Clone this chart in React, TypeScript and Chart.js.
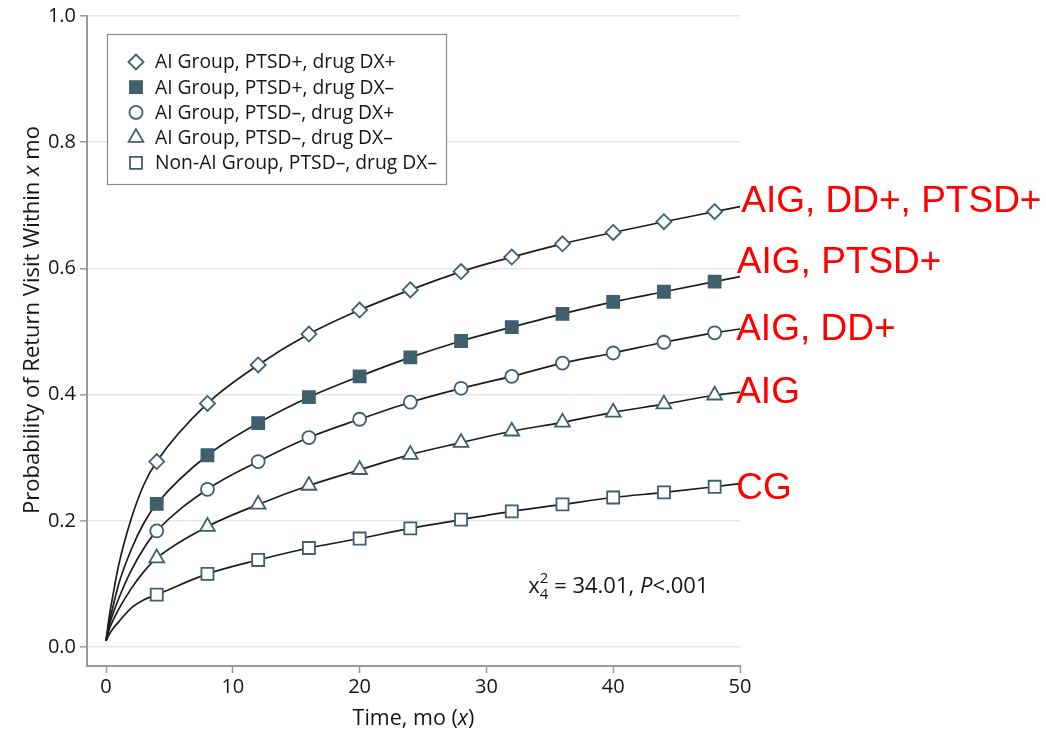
import React, { useEffect, useRef } from 'react';
import { Chart, registerables } from 'chart.js';

Chart.register(...registerables);

// ---------- data ----------
const seriesLabels = [
  'AI Group, PTSD+, drug DX+',
  'AI Group, PTSD+, drug DX\u2013',
  'AI Group, PTSD\u2013, drug DX+',
  'AI Group, PTSD\u2013, drug DX\u2013',
  'Non-AI Group, PTSD\u2013, drug DX\u2013',
];
const seriesMarkers = ['rectRot', 'rect', 'circle', 'triangle', 'rect'];
const seriesFilled = [false, true, false, false, false];

const markerTimes = [4, 8, 12, 16, 20, 24, 28, 32, 36, 40, 44, 48];
const aigDdPtsd = [0.294, 0.386, 0.447, 0.496, 0.534, 0.566, 0.595, 0.618, 0.639, 0.657, 0.674, 0.690];
const aigPtsd = [0.227, 0.304, 0.355, 0.396, 0.429, 0.459, 0.485, 0.507, 0.528, 0.547, 0.563, 0.579];
const aigDd = [0.184, 0.250, 0.294, 0.332, 0.361, 0.388, 0.410, 0.429, 0.450, 0.466, 0.483, 0.498];
const aig = [0.141, 0.191, 0.226, 0.256, 0.281, 0.305, 0.324, 0.342, 0.356, 0.372, 0.385, 0.399];
const cg = [0.083, 0.116, 0.138, 0.157, 0.172, 0.188, 0.202, 0.215, 0.226, 0.237, 0.245, 0.254];

// fitted curves: early part (t = 0 .. 3), marker part, end (t = 50)
const curveHeadTimes = [0, 0.25, 0.5, 1, 2, 3];
const curveEndTime = 50;
const aigDdPtsdHead = [0.010, 0.048, 0.077, 0.130, 0.204, 0.258];
const aigPtsdHead = [0.010, 0.040, 0.060, 0.100, 0.155, 0.197];
const aigDdHead = [0.010, 0.034, 0.050, 0.077, 0.122, 0.157];
const aigHead = [0.010, 0.028, 0.040, 0.060, 0.093, 0.120];
const cgHead = [0.010, 0.020, 0.028, 0.040, 0.062, 0.075];
const curveEnds = [0.698, 0.587, 0.504, 0.404, 0.259];

const xTicks = [0, 10, 20, 30, 40, 50];
const yTicks = [0, 0.2, 0.4, 0.6, 0.8, 1.0];

const groupLabels = ['AIG, DD+, PTSD+', 'AIG, PTSD+', 'AIG, DD+', 'AIG', 'CG'];
const statText = { chi: '34.01', df: '4', p: '<.001' };

// ---------- styles ----------
const MARK = '#3e5f6b';
const FONT = '"Open Sans", "DejaVu Sans", sans-serif';
const TEXT = '#151515';
const AXIS = '#9a9a9a';
const GRID = '#e6e6e6';

const markerSeries = [aigDdPtsd, aigPtsd, aigDd, aig, cg];
const headSeries = [aigDdPtsdHead, aigPtsdHead, aigDdHead, aigHead, cgHead];

function markerRadius(style: string) {
  if (style === 'rectRot') return 7.5;
  if (style === 'rect') return 8.5;
  if (style === 'circle') return 6.5;
  return 8.5;
}

function drawMarker(ctx: CanvasRenderingContext2D, style: string, x: number, y: number, filled: boolean) {
  const r = markerRadius(style);
  ctx.save();
  ctx.beginPath();
  if (style === 'rectRot') {
    ctx.moveTo(x - r, y);
    ctx.lineTo(x, y - r);
    ctx.lineTo(x + r, y);
    ctx.lineTo(x, y + r);
    ctx.closePath();
  } else if (style === 'rect') {
    const s = r * Math.SQRT1_2;
    ctx.rect(x - s, y - s, 2 * s, 2 * s);
  } else if (style === 'circle') {
    ctx.arc(x, y, r, 0, Math.PI * 2);
  } else {
    ctx.moveTo(x, y - r);
    ctx.lineTo(x + 0.866 * r, y + 0.5 * r);
    ctx.lineTo(x - 0.866 * r, y + 0.5 * r);
    ctx.closePath();
  }
  ctx.fillStyle = filled ? MARK : '#ffffff';
  ctx.fill();
  ctx.lineWidth = 1.8;
  ctx.strokeStyle = MARK;
  ctx.stroke();
  ctx.restore();
}

type Seg = { t: string; italic?: boolean; size?: number; dy?: number; dx?: number };

function segFont(s: Seg, base: number) {
  return `${s.italic ? 'italic ' : ''}${s.size ?? base}px ${FONT}`;
}

function measureSegs(ctx: CanvasRenderingContext2D, segs: Seg[], base: number) {
  let w = 0;
  for (const s of segs) {
    ctx.font = segFont(s, base);
    w += ctx.measureText(s.t).width + (s.dx ?? 0);
  }
  return w;
}

function drawSegs(ctx: CanvasRenderingContext2D, segs: Seg[], x: number, y: number, base: number) {
  let cx = x;
  for (const s of segs) {
    ctx.font = segFont(s, base);
    ctx.fillText(s.t, cx, y + (s.dy ?? 0));
    cx += ctx.measureText(s.t).width + (s.dx ?? 0);
  }
}

const overlayPlugin = {
  id: 'overlay',
  afterDatasetsDraw(chart: any) {
    const { ctx, chartArea, scales } = chart;
    const xs = scales.x;
    const ys = scales.y;
    ctx.save();
    // legend box
    const lx = chartArea.left + 20;
    const ly = chartArea.top + 18;
    const lw = 339;
    const lh = 150;
    ctx.fillStyle = '#ffffff';
    ctx.fillRect(lx, ly, lw, lh);
    ctx.strokeStyle = '#8a8a8a';
    ctx.lineWidth = 1.2;
    ctx.strokeRect(lx + 0.5, ly + 0.5, lw, lh);
    seriesLabels.forEach((lab, i) => {
      const cy = ly + 28 + i * 25.2;
      drawMarker(ctx, seriesMarkers[i], lx + 29, cy, seriesFilled[i]);
      ctx.fillStyle = TEXT;
      ctx.font = `19.3px ${FONT}`;
      ctx.textAlign = 'left';
      ctx.textBaseline = 'middle';
      ctx.fillText(lab, lx + 48, cy + 1);
    });

    // chi-square statistic
    ctx.textBaseline = 'alphabetic';
    ctx.fillStyle = TEXT;
    const sx = xs.getPixelForValue(33.3);
    const sy = ys.getPixelForValue(0.086);
    drawSegs(ctx, [
      { t: 'x' },
      { t: '2', size: 15, dy: -10, dx: -8.5 },
      { t: statText.df, size: 15, dy: 6 },
      { t: ' = ' + statText.chi + ', ' },
      { t: 'P', italic: true },
      { t: statText.p },
    ], sx, sy, 22);
    ctx.restore();
  },
  afterDraw(chart: any) {
    const { ctx, chartArea, scales } = chart;
    const xs = scales.x;
    const ys = scales.y;
    ctx.save();
    ctx.fillStyle = TEXT;
    ctx.textBaseline = 'alphabetic';
    ctx.textAlign = 'left';
    // x-axis title
    const xt: Seg[] = [{ t: 'Time, mo (' }, { t: 'x', italic: true }, { t: ')' }];
    const xw = measureSegs(ctx, xt, 21.5);
    drawSegs(ctx, xt, (chartArea.left + chartArea.right) / 2 - xw / 2, 725, 21.5);
    // y-axis title
    const yt: Seg[] = [{ t: 'Probability of Return Visit Within ' }, { t: 'x', italic: true }, { t: ' mo' }];
    const yw = measureSegs(ctx, yt, 22);
    ctx.save();
    ctx.translate(39, 320);
    ctx.rotate(-Math.PI / 2);
    drawSegs(ctx, yt, -yw / 2, 0, 22);
    ctx.restore();

    // red group annotations
    const anchors = [
      [50.1, 0.690],
      [49.75, 0.592],
      [49.7, 0.487],
      [49.7, 0.3875],
      [49.7, 0.234],
    ];
    ctx.fillStyle = '#ff0000';
    ctx.font = '37px "Liberation Sans", Arial, sans-serif';
    groupLabels.forEach((g, i) => {
      ctx.fillText(g, xs.getPixelForValue(anchors[i][0]), ys.getPixelForValue(anchors[i][1]));
    });
    ctx.restore();
  },
};

export default function App() {
  const ref = useRef<HTMLCanvasElement | null>(null);
  useEffect(() => {
    document.body.style.margin = '0';
    const canvas = ref.current!;
    const datasets: any[] = [];
    markerSeries.forEach((vals, i) => {
      datasets.push({
        label: seriesLabels[i] + ' markers',
        data: markerTimes.map((t, j) => ({ x: t, y: vals[j] })),
        showLine: false,
        pointStyle: seriesMarkers[i],
        pointRadius: markerRadius(seriesMarkers[i]),
        pointBackgroundColor: seriesFilled[i] ? MARK : '#ffffff',
        pointBorderColor: MARK,
        pointBorderWidth: 1.8,
        order: 1,
      });
    });
    markerSeries.forEach((vals, i) => {
      const pts = [
        ...curveHeadTimes.map((t, j) => ({ x: t, y: headSeries[i][j] })),
        ...markerTimes.map((t, j) => ({ x: t, y: vals[j] })),
        { x: curveEndTime, y: curveEnds[i] },
      ];
      datasets.push({
        label: seriesLabels[i],
        data: pts,
        borderColor: '#1c1c1c',
        borderWidth: 1.7,
        pointRadius: 0,
        cubicInterpolationMode: 'monotone',
        fill: false,
        order: 2,
      });
    });

    const chart = new Chart(canvas, {
      type: 'line',
      data: { datasets },
      options: {
        animation: false,
        responsive: false,
        devicePixelRatio: 1,
        layout: { padding: { top: 16, right: 306, bottom: 0, left: 0 } },
        plugins: { legend: { display: false }, tooltip: { enabled: false }, title: { display: false } },
        scales: {
          x: {
            type: 'linear',
            min: -1.5,
            max: 50,
            afterFit: (s: any) => { s.height = 67; },
            afterBuildTicks: (s: any) => { s.ticks = xTicks.map((v) => ({ value: v })); },
            grid: { drawOnChartArea: false, drawTicks: true, tickLength: 7, tickColor: AXIS, tickWidth: 1.5 },
            border: { display: true, color: AXIS, width: 2 },
            ticks: { color: TEXT, font: { family: FONT, size: 20 }, padding: 2, maxRotation: 0, callback: (v: any) => String(v) },
          },
          y: {
            type: 'linear',
            min: -0.03,
            max: 1.0,
            afterFit: (s: any) => { s.width = 87; },
            afterBuildTicks: (s: any) => { s.ticks = yTicks.map((v) => ({ value: v })); },
            grid: { drawOnChartArea: true, color: GRID, lineWidth: 1.6, drawTicks: true, tickLength: 7, tickColor: AXIS, tickWidth: 1.5 },
            border: { display: true, color: AXIS, width: 2 },
            ticks: { color: TEXT, font: { family: FONT, size: 20 }, padding: 4, callback: (v: any) => Number(v).toFixed(1) },
          },
        },
      },
      plugins: [overlayPlugin],
    });
    return () => chart.destroy();
  }, []);

  return (
    <div style={{ width: 1046, height: 733 }}>
      <canvas ref={ref} width={1046} height={733} style={{ display: 'block' }} />
    </div>
  );
}
